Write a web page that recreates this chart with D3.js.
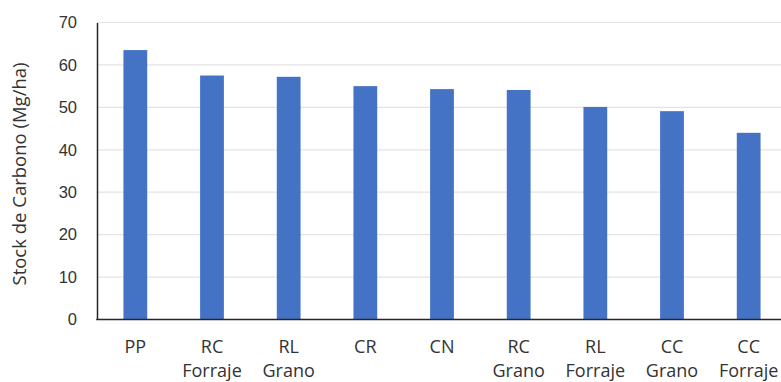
<!DOCTYPE html>
<html>
<head>
<meta charset="utf-8">
<script src="https://cdn.jsdelivr.net/npm/d3@7"></script>
<style>
  html, body { margin: 0; padding: 0; background: #fff; }
  svg { display: block; font-family: "Open Sans", "Noto Sans", sans-serif; }
</style>
</head>
<body>
<svg id="chart" width="781" height="382"></svg>
<script>
// Carbon stock by land-use system
const categories = [
  ["PP"], ["RC", "Forraje"], ["RL", "Grano"], ["CR"], ["CN"],
  ["RC", "Grano"], ["RL", "Forraje"], ["CC", "Grano"], ["CC", "Forraje"]
];
const stockValues = [63.5, 57.5, 57.2, 55.0, 54.3, 54.1, 50.1, 49.1, 44.0];
const yTicks = [0, 10, 20, 30, 40, 50, 60, 70];
const yTitle = "Stock de Carbono (Mg/ha)";

const svg = d3.select("#chart");
const margin = { left: 97, top: 22.5, right: -6, bottom: 62.5 };
const width = 781, height = 382;

const keys = categories.map(c => c.join(" "));
const x = d3.scaleBand()
  .domain(keys)
  .range([margin.left, width - margin.right])
  .paddingInner(0.69)
  .paddingOuter(0.345);

const y = d3.scaleLinear()
  .domain([0, 70])
  .range([height - margin.bottom, margin.top]);

// horizontal gridlines
svg.append("g")
  .selectAll("line")
  .data(yTicks.filter(t => t > 0))
  .join("line")
  .attr("x1", margin.left)
  .attr("x2", width)
  .attr("y1", d => y(d))
  .attr("y2", d => y(d))
  .attr("stroke", "#e3e3e3")
  .attr("stroke-width", 1.2);

// bars
svg.append("g")
  .selectAll("rect")
  .data(stockValues)
  .join("rect")
  .attr("x", (d, i) => x(keys[i]))
  .attr("width", x.bandwidth())
  .attr("y", d => y(d))
  .attr("height", d => y(0) - y(d))
  .attr("fill", "#4472C4");

// y axis
const yAxis = d3.axisLeft(y).tickValues(yTicks).tickSize(0).tickPadding(20);
const gy = svg.append("g")
  .attr("transform", `translate(${margin.left},0)`)
  .call(yAxis);
gy.select(".domain").attr("stroke", "#262626").attr("stroke-width", 1.5);
gy.selectAll("text").attr("font-size", 16.5).attr("fill", "#333");

// x axis
const gx = svg.append("g")
  .attr("transform", `translate(0,${y(0)})`);
gx.append("line")
  .attr("x1", margin.left - 0.75)
  .attr("x2", width)
  .attr("stroke", "#262626")
  .attr("stroke-width", 1.5);
gx.selectAll("text")
  .data(categories)
  .join("text")
  .attr("x", (d, i) => x(keys[i]) + x.bandwidth() / 2)
  .attr("y", 33)
  .attr("text-anchor", "middle")
  .attr("font-size", 18)
  .attr("fill", "#333")
  .selectAll("tspan")
  .data(d => d)
  .join("tspan")
  .attr("x", function() { return this.parentNode.getAttribute("x"); })
  .attr("dy", (d, i) => i === 0 ? 0 : 24)
  .text(d => d);

// y axis title
svg.append("text")
  .attr("transform", `translate(26,174) rotate(-90)`)
  .attr("text-anchor", "middle")
  .attr("font-size", 18.5)
  .attr("fill", "#333")
  .text(yTitle);
</script>
</body>
</html>
